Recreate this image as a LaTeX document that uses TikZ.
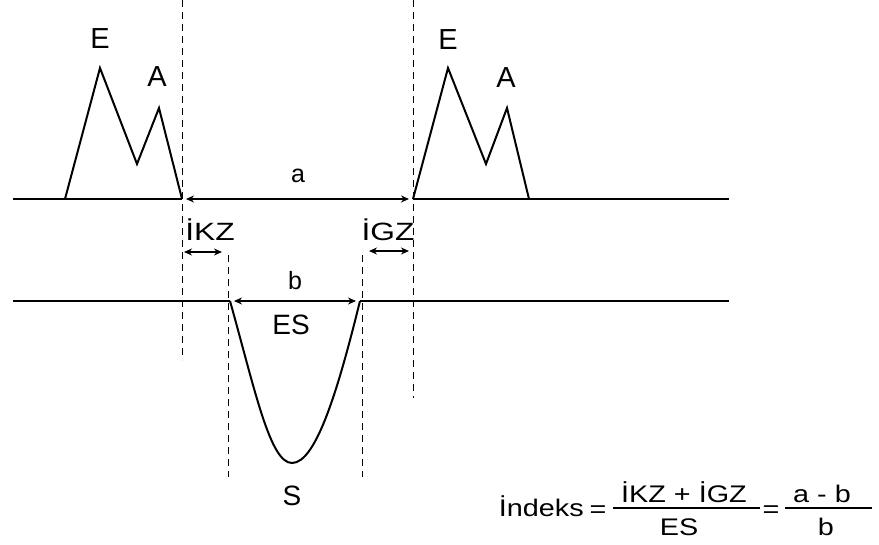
\documentclass[tikz,border=0pt]{standalone}
\usepackage{fontspec}
\setmainfont{Liberation Sans}
\usetikzlibrary{arrows.meta}
\begin{document}
\begin{tikzpicture}[x=1pt,y=-1pt,
  trace/.style={line width=2pt, line join=miter, line cap=butt},
  guide/.style={line width=1pt, dash pattern=on 7pt off 5pt},
  dim/.style={line width=2pt, {Stealth[length=8pt,width=7pt]}-{Stealth[length=8pt,width=7pt]}},
  lbl/.style={inner sep=0pt, anchor=base, font=\fontsize{25}{25}\selectfont},
  peaklbl/.style={lbl, font=\fontsize{29}{29}\selectfont},
  midlbl/.style={lbl, font=\fontsize{28}{28}\selectfont},
  widelbl/.style={lbl, xscale=1.27},
  fml/.style={inner sep=0pt, anchor=base, font=\fontsize{24}{24}\selectfont, xscale=1.2},
  bar/.style={line width=2pt}
]
\useasboundingbox (0,0) rectangle (879,545);

% --- coordinates of the upper trace
\coordinate (L0) at (13,199);
\coordinate (Ls) at (65,199);
\coordinate (Le) at (100,68);
\coordinate (Lv) at (137,164);
\coordinate (La) at (159,108);
\coordinate (Lend) at (182,199);
\coordinate (R0) at (413,199);
\coordinate (Re) at (448,68);
\coordinate (Rv) at (486,164);
\coordinate (Ra) at (507,108);
\coordinate (Rs) at (529,199);
\coordinate (Rend) at (729,199);

% --- coordinates of the lower trace
\coordinate (B0) at (13,301);
\coordinate (Bl) at (230,301);
\coordinate (Bbot) at (292,463);
\coordinate (Br) at (360,301);
\coordinate (Bend) at (729,301);

% --- dashed guides
\coordinate (g1t) at (182,0);   \coordinate (g1b) at (182,360);
\coordinate (g2t) at (413,0);   \coordinate (g2b) at (413,398);
\coordinate (g3t) at (228,255); \coordinate (g3b) at (228,477);
\coordinate (g4t) at (362,255); \coordinate (g4b) at (362,477);
\draw[guide] (g1t) -- (g1b);
\draw[guide] (g2t) -- (g2b);
\draw[guide] (g3t) -- (g3b);
\draw[guide] (g4t) -- (g4b);

% upper trace
\draw[trace] (L0) -- (Lend);
\draw[trace] (Ls) -- (Le) -- (Lv) -- (La) -- (Lend);
\draw[trace] (R0) -- (Rend);
\draw[trace] (R0) -- (Re) -- (Rv) -- (Ra) -- (Rs);

% lower trace
\draw[trace] (B0) -- (Bl);
\draw[trace] (Br) -- (Bend);
\draw[trace] (Bl) .. controls (255,390) and (270,463) .. (Bbot)
                  .. controls (316,463) and (338,390) .. (Br);

% dimension arrows
\draw[dim, shorten <=4pt, shorten >=4pt] (Lend) -- (R0);
\draw[dim, shorten <=4pt, shorten >=4pt] (Bl) -- (Br);
\coordinate (k1) at (184,252); \coordinate (k2) at (222,252);
\coordinate (z1) at (369,251); \coordinate (z2) at (409,251);
\draw[dim] (k1) -- (k2);
\draw[dim] (z1) -- (z2);

% labels
\node[peaklbl] (lE) at (100,49) {E};
\node[peaklbl] (lA) at (157,87) {A};
\node[peaklbl] (rE) at (448,50) {E};
\node[peaklbl] (rA) at (506,88) {A};
\node[lbl] (la) at (298,183) {a};
\node[lbl] (lb) at (295,290) {b};
\node[midlbl] (lES) at (291,335) {ES};
\node[midlbl] (lS) at (292,505) {S};
\node[widelbl] (lIKZ) at (210,241) {İKZ};
\node[widelbl] (lIGZ) at (388,241) {İGZ};

% formula
\node[fml, anchor=base east] (idx) at (584,516) {İndeks};
\node[fml] (eq1) at (598,517) {=};
\node[fml] (num1) at (684,503) {İKZ + İGZ};
\coordinate (f1a) at (613,508); \coordinate (f1b) at (760,508);
\draw[bar] (f1a) -- (f1b);
\node[fml] (den1) at (679,535) {ES};
\node[fml] (eq2) at (771,517) {=};
\coordinate (f2a) at (785,508); \coordinate (f2b) at (872,508);
\draw[bar] (f2a) -- (f2b);
\node[fml] (num2) at (822,502) {a - b};
\node[fml] (den2) at (826,535) {b};
\end{tikzpicture}
\end{document}
